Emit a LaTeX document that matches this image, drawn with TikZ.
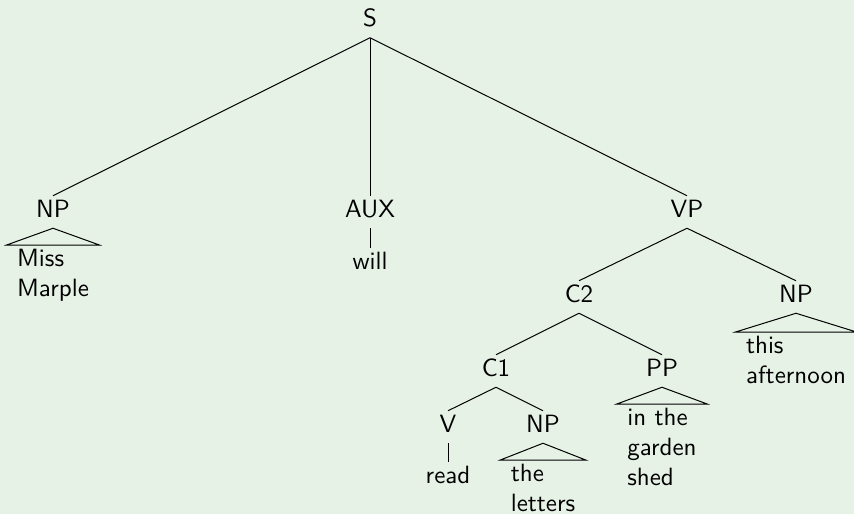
\documentclass[tikz,border=0pt]{standalone}
\definecolor{paper}{RGB}{231,242,230}
\tikzset{every picture/.style={line width=0.4pt}}
\tikzset{cat/.style={anchor=base,inner sep=1.3pt,text height=7pt,text depth=3pt,font=\sffamily},
	leaf/.style={anchor=north,inner xsep=4pt,inner ysep=1.45pt,align=left,font=\sffamily}}

\begin{document}
\begin{tikzpicture}[x=0.4pt,y=0.4pt,yscale=-1,xscale=1]
	\useasboundingbox (0,0) rectangle (854,514);
	\fill [paper] (0,0) rectangle (854,514);
	
	% Text Node
	\draw (370,26.5) node [cat] (s) {S};
	% Text Node
	\draw (53,217) node [cat] (np1) {NP};
	% Text Node
	\draw (370,217) node [cat] (aux) {AUX};
	% Text Node
	\draw (687,217) node [cat] (vp) {VP};
	% Text Node
	\draw (579,302) node [cat] (c2) {C2};
	% Text Node
	\draw (796,302) node [cat] (np2) {NP};
	% Text Node
	\draw (496,376) node [cat] (c1) {C1};
	% Text Node
	\draw (662,376) node [cat] (pp) {PP};
	% Text Node
	\draw (448,432) node [cat] (v) {V};
	% Text Node
	\draw (543,432) node [cat] (np3) {NP};
	
	% Text Node
	\draw (53,245) node [leaf] (missmarple) {Miss\\Marple};
	% Text Node
	\draw (370,248) node [leaf] (will) {will};
	% Text Node
	\draw (796,332) node [leaf] (thisafternoon) {this\\afternoon};
	% Text Node
	\draw (662,404) node [leaf] (gardenshed) {in the\\garden\\shed};
	% Text Node
	\draw (448,462) node [leaf] (read) {read};
	% Text Node
	\draw (543,460) node [leaf] (theletters) {the\\letters};
	
	%Straight Lines
	\draw (s.south) -- (np1.north);
	\draw (s.south) -- (aux.north);
	\draw (s.south) -- (vp.north);
	\draw (vp.south) -- (c2.north);
	\draw (vp.south) -- (np2.north);
	\draw (c2.south) -- (c1.north);
	\draw (c2.south) -- (pp.north);
	\draw (c1.south) -- (v.north);
	\draw (c1.south) -- (np3.north);
	\draw (aux.south) -- (will.north);
	\draw (v.south) -- (read.north);
	
	%Shape: Triangle
	\draw (np1.south) -- (missmarple.north west) -- (missmarple.north east) -- cycle;
	\draw (np2.south) -- (thisafternoon.north west) -- (thisafternoon.north east) -- cycle;
	\draw (pp.south) -- (gardenshed.north west) -- (gardenshed.north east) -- cycle;
	\draw (np3.south) -- (theletters.north west) -- (theletters.north east) -- cycle;
	
\end{tikzpicture}
\end{document}
